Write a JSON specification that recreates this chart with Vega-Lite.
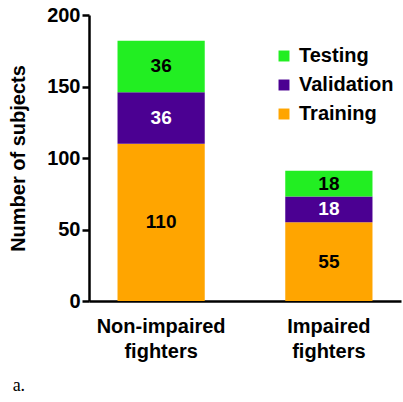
{
  "$schema": "https://vega.github.io/schema/vega-lite/v6.json",
  "width": 312,
  "height": 286,
  "padding": {"left": 8, "top": 5, "right": 3, "bottom": 5},
  "background": "white",
  "config": {
    "view": {"stroke": null},
    "font": "Liberation Sans"
  },
  "title": {
    "text": "a.",
    "orient": "bottom",
    "anchor": "start",
    "frame": "bounds",
    "font": "Liberation Serif",
    "fontSize": 18,
    "fontWeight": "normal",
    "color": "black",
    "offset": 16,
    "dx": 4
  },
  "data": {
    "values": [
      {"group": "Non-impaired fighters", "set": "Training", "n": 110, "rank": 1},
      {"group": "Non-impaired fighters", "set": "Validation", "n": 36, "rank": 2},
      {"group": "Non-impaired fighters", "set": "Testing", "n": 36, "rank": 3},
      {"group": "Impaired fighters", "set": "Training", "n": 55, "rank": 1},
      {"group": "Impaired fighters", "set": "Validation", "n": 18, "rank": 2},
      {"group": "Impaired fighters", "set": "Testing", "n": 18, "rank": 3}
    ]
  },
  "transform": [
    {"stack": "n", "groupby": ["group"], "sort": [{"field": "rank", "order": "ascending"}], "as": ["y0", "y1"]},
    {"calculate": "(datum.y0 + datum.y1) / 2", "as": "ymid"}
  ],
  "encoding": {
    "x": {
      "field": "group",
      "type": "nominal",
      "sort": ["Non-impaired fighters", "Impaired fighters"],
      "scale": {"paddingInner": 0.48, "paddingOuter": 0.17},
      "axis": {
        "title": null,
        "labelAngle": 0,
        "ticks": false,
        "domainColor": "black",
        "domainWidth": 2.5,
        "labelFontSize": 20,
        "labelFontWeight": "bold",
        "labelColor": "black",
        "labelPadding": 15,
        "labelLineHeight": 25,
        "labelExpr": "split(datum.label, ' ')"
      }
    }
  },
  "layer": [
    {
      "mark": {"type": "bar"},
      "encoding": {
        "y": {
          "field": "y0",
          "type": "quantitative",
          "scale": {"domain": [0, 200], "nice": false},
          "axis": {
            "title": "Number of subjects",
            "titleFontSize": 20,
            "titleFontWeight": "bold",
            "titleColor": "black",
            "titlePadding": 18,
            "values": [0, 50, 100, 150, 200],
            "grid": false,
            "domainColor": "black",
            "domainWidth": 2.5,
            "tickColor": "black",
            "tickWidth": 2.5,
            "tickSize": 7,
            "labelFontSize": 20,
            "labelFontWeight": "bold",
            "labelColor": "black",
            "labelPadding": 2
          }
        },
        "y2": {"field": "y1"},
        "color": {
          "field": "set",
          "type": "nominal",
          "scale": {
            "domain": ["Testing", "Validation", "Training"],
            "range": ["#22EE22", "#4B0092", "#FFA500"]
          },
          "legend": {
            "title": null,
            "orient": "none",
            "legendX": 185,
            "legendY": 31,
            "symbolType": "square",
            "symbolSize": 120,
            "symbolStrokeWidth": 0,
            "labelFontSize": 20,
            "labelFontWeight": "bold",
            "labelColor": "black",
            "labelOffset": 5,
            "rowPadding": 9,
            "padding": 0
          }
        }
      }
    },
    {
      "mark": {"type": "text", "fontSize": 19, "fontWeight": "bold", "baseline": "middle"},
      "encoding": {
        "y": {"field": "ymid", "type": "quantitative"},
        "text": {"field": "n", "type": "quantitative"},
        "color": {
          "condition": {"test": "datum.set === 'Validation'", "value": "white"},
          "value": "black"
        }
      }
    }
  ]
}
